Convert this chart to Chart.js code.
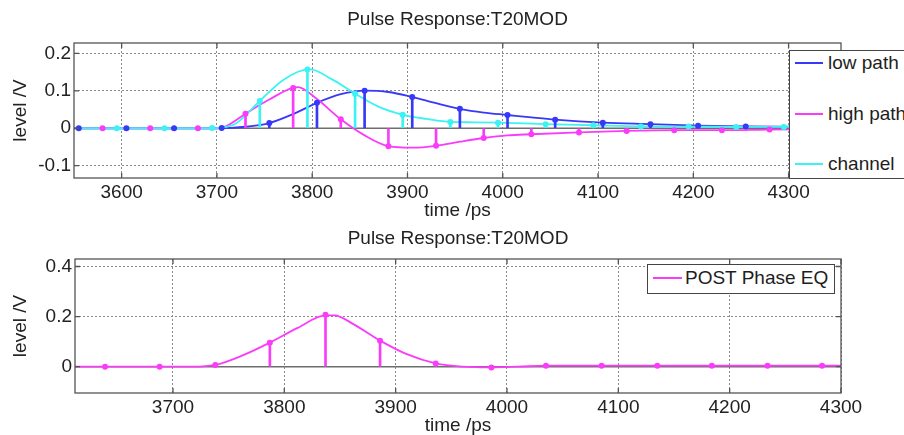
<!DOCTYPE html>
<html>
<head>
<meta charset="utf-8">
<script src="https://cdn.jsdelivr.net/npm/chart.js@4.4.1/dist/chart.umd.min.js"></script>
<style>
  body { margin: 0; background: #fff; }
  #wrap { position: relative; width: 904px; height: 435px; overflow: hidden; background: #fff;
          font-family: "Liberation Sans", Arial, sans-serif; }
  canvas { position: absolute; left: 0; }
  .leg { position: absolute; background: #fff; border: 1px solid #444; box-sizing: border-box;
         font-size: 19px; color: #1e1e1e; }
  .item { position: absolute; left: 0; height: 24px; line-height: 24px; white-space: nowrap; }
  .item .l { display: inline-block; width: 28px; height: 2px; vertical-align: middle; margin: 0 5px 0 5px; position: relative; top: -1px; }
</style>
</head>
<body>
<div id="wrap">
  <canvas id="c1" width="904" height="220" style="top:0px"></canvas>
  <canvas id="c2" width="904" height="215" style="top:220px"></canvas>
  <div class="leg" style="left:789px;top:50px;width:140px;height:129px;">
    <div class="item" style="top:0px"><span class="l" style="background:#3838f8"></span>low path</div>
    <div class="item" style="top:51px"><span class="l" style="background:#fa3cfa"></span>high path</div>
    <div class="item" style="top:101px"><span class="l" style="background:#3cf2f2"></span>channel</div>
  </div>
  <div class="leg" style="left:647px;top:264px;width:188px;height:30px;">
    <div class="item" style="top:1px"><span class="l" style="background:#fa3cfa;width:29px;margin-right:3px"></span>POST Phase EQ</div>
  </div>
</div>
<script>
// ---------- data ----------
const plotTitle = 'Pulse Response:T20MOD';
const xLabel = 'time /ps';
const yLabel = 'level /V';

// top chart: sampled values (stems)
const lowT  = [3555,3605,3655,3705,3755,3805,3855,3905,3955,4005,4055,4105,4155,4205,4255,4305];
const lowV  = [0,0,0,0.001,0.014,0.068,0.1005,0.0835,0.052,0.0355,0.023,0.015,0.011,0.007,0.005,0.004];
const highT = [3580,3630,3680,3730,3780,3830,3880,3930,3980,4030,4080,4130,4180,4230,4280,4330];
const highV = [0,0,0,0.039,0.108,0.024,-0.048,-0.047,-0.026,-0.016,-0.011,-0.007,-0.005,-0.005,-0.0035,-0.003];
const chanT = [3595,3645,3695,3745,3795,3845,3895,3945,3995,4045,4095,4145,4195,4245,4295,4345];
const chanV = [0,0,0.001,0.073,0.157,0.0925,0.036,0.017,0.015,0.011,0.008,0.005,0.0045,0.0035,0.0035,0.003];

// top chart: continuous responses
const lowCurveT  = [3550,3700,3715,3730,3755,3780,3805,3830,3855,3880,3905,3930,3955,3980,4005,4030,4055,4105,4155,4205,4255,4305,4355];
const lowCurveV  = [0,0,0.001,0.004,0.014,0.038,0.068,0.091,0.1005,0.097,0.0835,0.067,0.052,0.042,0.0355,0.029,0.023,0.015,0.011,0.007,0.005,0.004,0.003];
const highCurveT = [3550,3700,3710,3730,3755,3785,3805,3830,3855,3880,3905,3930,3955,3980,4005,4030,4080,4130,4180,4230,4280,4355];
const highCurveV = [0,0,0.006,0.039,0.077,0.110,0.078,0.024,-0.019,-0.048,-0.052,-0.047,-0.036,-0.026,-0.019,-0.016,-0.011,-0.007,-0.005,-0.005,-0.0035,-0.002];
const chanCurveT = [3550,3690,3705,3720,3745,3770,3797,3820,3845,3870,3895,3920,3945,3970,3995,4045,4095,4145,4195,4245,4295,4355];
const chanCurveV = [0,0,0.002,0.013,0.073,0.13,0.158,0.132,0.0925,0.057,0.036,0.025,0.017,0.016,0.015,0.011,0.008,0.005,0.0045,0.0035,0.0035,0.003];

// bottom chart
const postT = [3639,3688,3738,3787,3837,3886,3936,3986,4035,4085,4135,4184,4234,4283];
const postV = [0,0,0.007,0.096,0.207,0.104,0.013,-0.003,0.004,0.004,0.004,0.004,0.004,0.004];
const postCurveT = [3612,3718,3738,3762,3787,3812,3837,3845,3862,3886,3910,3936,3960,3986,4010,4035,4300];
const postCurveV = [0,0,0.007,0.044,0.096,0.155,0.205,0.205,0.17,0.104,0.05,0.013,0.0,-0.003,0.0,0.004,0.004];

// axis ranges and tick labels
const topX = [3550, 4355], topY = [-0.133, 0.228];
const topXTicks = [3600, 3700, 3800, 3900, 4000, 4100, 4200, 4300];
const topYTicks = [-0.1, 0, 0.1, 0.2];
const botX = [3612, 4300], botY = [-0.105, 0.43];
const botXTicks = [3700, 3800, 3900, 4000, 4100, 4200, 4300];
const botYTicks = [0, 0.2, 0.4];

// ---------- styling ----------
const FONT = '"Liberation Sans", Arial, sans-serif';
const BLUE = '#3838f8', MAG = '#fa3cfa', CYAN = '#3cf2f2';
const GRID = '#8a8a8a', TXT = '#222';

function pts(t, v) { return t.map((x, i) => ({ x: x, y: v[i] })); }

function curve(t, v, c) {
  return { type: 'line', data: pts(t, v), borderColor: c, borderWidth: 1.8, pointRadius: 0,
           cubicInterpolationMode: 'monotone', fill: false, order: 3 };
}
function stems(t, v, c) {
  return { type: 'bar', data: pts(t, v), backgroundColor: c, barThickness: 2, grouped: false,
           borderWidth: 0, order: 2 };
}
function marks(t, v, c) {
  return { type: 'scatter', data: pts(t, v), pointRadius: 3, pointBackgroundColor: c,
           pointBorderWidth: 0, showLine: false, order: 1 };
}

const zeroLine = {
  id: 'zeroLine',
  beforeDatasetsDraw(chart) {
    const { ctx, chartArea: a, scales } = chart;
    const y0 = scales.y.getPixelForValue(0);
    ctx.save();
    ctx.strokeStyle = '#6e6e6e'; ctx.lineWidth = 1.6;
    ctx.beginPath(); ctx.moveTo(a.left, y0); ctx.lineTo(a.right, y0); ctx.stroke();
    ctx.restore();
  }
};
const boxPlugin = {
  id: 'box',
  afterDatasetsDraw(chart) {
    const { ctx, chartArea: a, scales } = chart;
    ctx.save();
    ctx.strokeStyle = '#555'; ctx.lineWidth = 1.3;
    ctx.strokeRect(a.left, a.top, a.right - a.left, a.bottom - a.top);
    ctx.beginPath();
    scales.x.ticks.forEach(t => {
      const p = scales.x.getPixelForValue(t.value);
      ctx.moveTo(p, a.bottom); ctx.lineTo(p, a.bottom - 5);
      ctx.moveTo(p, a.top); ctx.lineTo(p, a.top + 5);
    });
    scales.y.ticks.forEach(t => {
      const p = scales.y.getPixelForValue(t.value);
      ctx.moveTo(a.left, p); ctx.lineTo(a.left + 5, p);
      ctx.moveTo(a.right, p); ctx.lineTo(a.right - 5, p);
    });
    ctx.stroke();
    ctx.restore();
  }
};

function makeOptions(xr, yr, xt, yt, yw, titlePad) {
  return {
    responsive: false, animation: false,
    layout: { padding: { left: 0, right: 63, top: 0, bottom: 0 } },
    plugins: {
      legend: { display: false }, tooltip: { enabled: false },
      title: { display: true, text: plotTitle, color: TXT, fullSize: false,
               font: { size: 19, family: FONT, weight: 'normal', lineHeight: 1.2 }, padding: titlePad }
    },
    scales: {
      x: {
        type: 'linear', position: 'bottom', min: xr[0], max: xr[1], offset: false,
        afterBuildTicks: s => { s.ticks = xt.map(v => ({ value: v })); },
        afterFit: s => { s.height = 42; },
        ticks: { autoSkip: false, maxRotation: 0, padding: 3, color: TXT,
                 font: { size: 19, family: FONT }, callback: v => String(v) },
        grid: { offset: false, drawTicks: false, color: GRID, lineWidth: 1 },
        border: { display: false, dash: [2, 2] },
        title: { display: true, text: xLabel, color: TXT, font: { size: 19, family: FONT, lineHeight: 1 },
                 padding: { top: 0, bottom: 0 } }
      },
      y: {
        type: 'linear', min: yr[0], max: yr[1],
        afterBuildTicks: s => { s.ticks = yt.map(v => ({ value: v })); },
        afterFit: s => { s.width = yw; },
        ticks: { autoSkip: false, padding: 3, color: TXT,
                 font: { size: 19, family: FONT }, callback: v => String(Number(v.toFixed(3))) },
        grid: { drawTicks: false, lineWidth: 1,
                color: c => (c.tick && Math.abs(c.tick.value) < 1e-9) ? 'rgba(0,0,0,0)' : GRID },
        border: { display: false, dash: [2, 2] },
        title: { display: true, text: yLabel, color: TXT, font: { size: 19, family: FONT, lineHeight: 1 },
                 padding: { top: 11.5, bottom: 0 } }
      }
    }
  };
}

new Chart(document.getElementById('c1'), {
  type: 'scatter',
  data: { datasets: [
    curve(chanCurveT, chanCurveV, CYAN), curve(highCurveT, highCurveV, MAG), curve(lowCurveT, lowCurveV, BLUE),
    stems(chanT, chanV, CYAN), stems(highT, highV, MAG), stems(lowT, lowV, BLUE),
    marks(chanT, chanV, CYAN), marks(highT, highV, MAG), marks(lowT, lowV, BLUE)
  ] },
  options: makeOptions(topX, topY, topXTicks, topYTicks, 74, { top: 8.6, bottom: 11.6 }),
  plugins: [zeroLine, boxPlugin]
});

new Chart(document.getElementById('c2'), {
  type: 'scatter',
  data: { datasets: [
    curve(postCurveT, postCurveV, MAG), stems(postT, postV, MAG), marks(postT, postV, MAG)
  ] },
  options: makeOptions(botX, botY, botXTicks, botYTicks, 75, { top: 6.9, bottom: 9.3 }),
  plugins: [zeroLine, boxPlugin]
});
</script>
</body>
</html>
